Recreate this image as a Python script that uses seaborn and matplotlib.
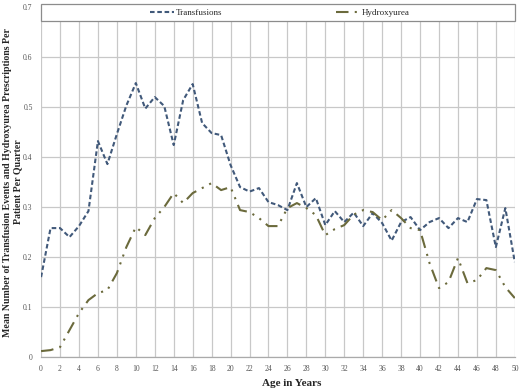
import numpy as np
import pandas as pd
import matplotlib
matplotlib.use("Agg")
import matplotlib.pyplot as plt
import seaborn as sns
from matplotlib.patches import Rectangle

ages = list(range(0, 51))
transfusions = [0.160, 0.258, 0.258, 0.240, 0.262, 0.292, 0.432, 0.386, 0.446, 0.503,
                0.548, 0.497, 0.520, 0.502, 0.424, 0.514, 0.546, 0.468, 0.448, 0.444,
                0.384, 0.340, 0.331, 0.338, 0.310, 0.304, 0.294, 0.348, 0.300, 0.318,
                0.264, 0.292, 0.270, 0.289, 0.262, 0.288, 0.268, 0.233, 0.270, 0.280,
                0.254, 0.270, 0.278, 0.258, 0.278, 0.270, 0.316, 0.314, 0.220, 0.298,
                0.190]
hydroxyurea = [0.012, 0.014, 0.020, 0.054, 0.088, 0.114, 0.128, 0.134, 0.168, 0.220,
               0.260, 0.244, 0.278, 0.300, 0.328, 0.308, 0.328, 0.338, 0.348, 0.334,
               0.340, 0.294, 0.290, 0.278, 0.262, 0.262, 0.298, 0.308, 0.298, 0.284,
               0.244, 0.256, 0.264, 0.285, 0.294, 0.290, 0.274, 0.294, 0.278, 0.258,
               0.254, 0.188, 0.138, 0.150, 0.198, 0.148, 0.154, 0.178, 0.174, 0.140,
               0.118]

sns.set_theme(style="whitegrid")
plt.rcParams["font.family"] = ["Liberation Serif", "DejaVu Serif"]

fig, ax = plt.subplots(figsize=(5.2, 3.92), dpi=100)
fig.subplots_adjust(left=0.079, right=0.990, bottom=0.089, top=0.982)

sns.lineplot(x=ages, y=transfusions, ax=ax, color="#41597a", linewidth=1.5,
             label="Transfusions")
sns.lineplot(x=ages, y=hydroxyurea, ax=ax, color="#6b6a3c", linewidth=1.5,
             label="Hydroxyurea")
ax.lines[0].set_dashes((2.2, 1.3))
ax.lines[1].set_dashes((6, 3, 1, 3, 1, 3))

ax.set_xlim(0, 50)
ax.set_ylim(0, 0.7)
ax.set_xticks(range(0, 51, 2))
ax.set_yticks(np.arange(0, 0.71, 0.1))
ax.set_yticklabels(["0", "0.1", "0.2", "0.3", "0.4", "0.5", "0.6", "0.7"])
ax.tick_params(axis="both", labelsize=5.5, colors="#555555", length=0, pad=6)
ax.grid(True, color="#c8c8c8", linewidth=0.9)
for s in ax.spines.values():
    s.set_visible(False)
ax.spines["bottom"].set_visible(True)
ax.spines["bottom"].set_color("#aaaaaa")
ax.spines["bottom"].set_linewidth(0.9)

ax.set_xlabel("Age in Years", fontsize=8, fontweight="bold", labelpad=6)
ax.xaxis.set_label_coords(0.53, -0.062)
ax.set_ylabel("Mean Number of Transfusion Events and Hydroxyurea Prescriptions Per\nPatient Per Quarter",
              fontsize=7.1, fontweight="bold", linespacing=1.15)
ax.yaxis.set_label_coords(-0.04, 0.5)

# legend box spanning the top of the plot area
ax.add_patch(Rectangle((0, 0.96), 1, 0.049, transform=ax.transAxes, facecolor="white",
                       edgecolor="#8c8c8c", linewidth=0.9, clip_on=False, zorder=5))
leg = ax.legend(loc="center", bbox_to_anchor=(0.504, 0.984), ncol=2, frameon=False,
                fontsize=6.5, columnspacing=12.5, handlelength=2.6, handletextpad=0.3)
leg.set_zorder(6)

fig.savefig("out.png", dpi=100)
